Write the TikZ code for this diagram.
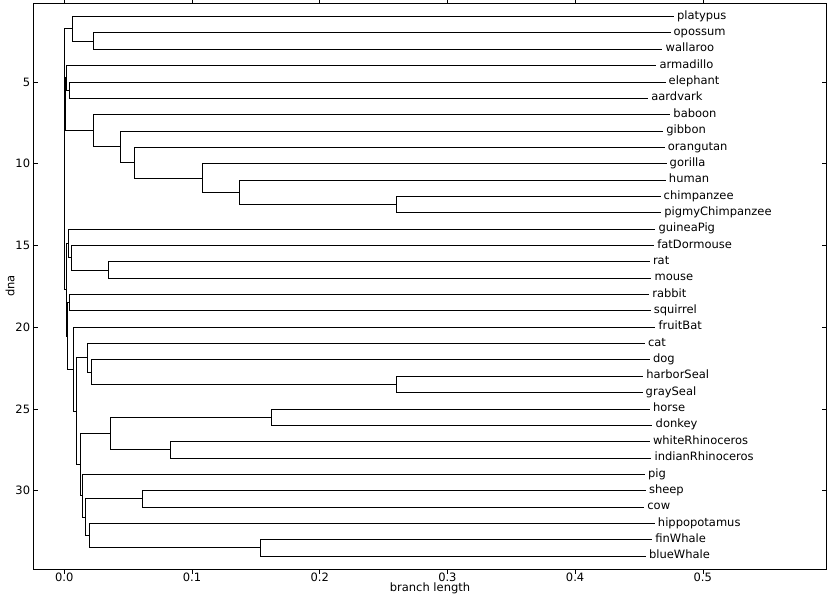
\documentclass[tikz,border=0pt]{standalone}
\usepackage{fontspec}
\setmainfont{DejaVu Sans}
\begin{document}
\begin{tikzpicture}[x=1277pt, y=-16.35pt, line width=1pt,
        every node/.style = {font=\fontsize{11.5}{13.8}\selectfont},
        leaf/.style = {anchor=west, inner xsep=2.7pt, inner ysep=0pt,
                        text height=0.76em, text depth=0.24em},
        ticklabel/.style = {inner sep=0pt},
        tickmark/.style = {line width=0.55pt}]
    \useasboundingbox (-0.05035,-0.0153) rectangle (0.59961,36.62);
    % axes frame
    \draw (-0.02387,0.2) rectangle (0.59663,34.8);
    \foreach \v [count=\i] in {0.0,0.1,0.2,0.3,0.4,0.5} {
        \draw[tickmark] (\v,34.8) -- ++(0,-4.4pt);
        \draw[tickmark] (\v,0.2) -- ++(0,4.4pt);
        \node[ticklabel, anchor=north] (xt\i) at ([yshift=-3.6pt]\v,34.8) {\v};
    }
    \foreach \r in {5,10,...,30} {
        \draw[tickmark] (-0.02387,\r) -- ++(4.4pt,0);
        \draw[tickmark] (0.59663,\r) -- ++(-4.4pt,0);
        \node[ticklabel, anchor=east] (yt\r) at ([xshift=-3.2pt]-0.02387,\r) {\r};
    }
    \node (xlab) at (0.28638,35.99) {branch length};
    \node[rotate=90] (ylab) at (-0.04252,17.477) {dna};
    % tips
    \foreach \name/\len [count=\row] in {platypus/0.4773, opossum/0.4747,
        wallaroo/0.4684, armadillo/0.4637, elephant/0.4708, aardvark/0.4572,
        baboon/0.4745, gibbon/0.4690, orangutan/0.4702, gorilla/0.4716,
        human/0.4710, chimpanzee/0.4669, pigmyChimpanzee/0.4673,
        guineaPig/0.4629, fatDormouse/0.4619, rat/0.4585, mouse/0.4598,
        rabbit/0.4580, squirrel/0.4591, fruitBat/0.4629, cat/0.4546,
        dog/0.4585, harborSeal/0.4533, graySeal/0.4528, horse/0.4585,
        donkey/0.4606, whiteRhinoceros/0.4585, indianRhinoceros/0.4598,
        pig/0.4546, sheep/0.4554, cow/0.4541, hippopotamus/0.4624,
        finWhale/0.4604, blueWhale/0.4554}
        \node[leaf] (\name) at (\len,\row) {\name};
    % inner clades
    \coordinate (root) at (0,9.7275);
    \coordinate (pm) at (0.0063,1.75);
    \coordinate (mar) at (0.0227,2.5);
    \coordinate (ep) at (0.0006,6.3672);
    \coordinate (af) at (0.0019,4.75);
    \coordinate (ea) at (0.0042,5.5);
    \coordinate (pri) at (0.0225,7.9844);
    \coordinate (gib) at (0.0439,8.9688);
    \coordinate (ora) at (0.0548,9.9375);
    \coordinate (gor) at (0.1086,10.875);
    \coordinate (hum) at (0.1370,11.75);
    \coordinate (chi) at (0.2598,12.5);
    \coordinate (ro) at (0.0016,17.7051);
    \coordinate (gp) at (0.0031,14.875);
    \coordinate (fd) at (0.0058,15.75);
    \coordinate (rm) at (0.0345,16.5);
    \coordinate (gl) at (0.0028,20.5352);
    \coordinate (lag) at (0.0039,18.5);
    \coordinate (bat) at (0.0071,22.5703);
    \coordinate (lau) at (0.0097,25.1406);
    \coordinate (car) at (0.0182,21.875);
    \coordinate (dsl) at (0.0215,22.75);
    \coordinate (seal) at (0.2603,23.5);
    \coordinate (ung) at (0.0125,28.4063);
    \coordinate (per) at (0.0358,26.5);
    \coordinate (eq) at (0.1624,25.5);
    \coordinate (rhi) at (0.0830,27.5);
    \coordinate (art) at (0.0141,30.3125);
    \coordinate (rum) at (0.0164,31.625);
    \coordinate (bov) at (0.0611,30.5);
    \coordinate (hip) at (0.0196,32.75);
    \coordinate (wha) at (0.1540,33.5);
    % branches
    \foreach \p/\c in {root/pm, root/ep, root/ro,
        pm/platypus, pm/mar, mar/opossum, mar/wallaroo,
        ep/af, ep/pri, af/armadillo, af/ea, ea/elephant, ea/aardvark,
        pri/baboon, pri/gib, gib/gibbon, gib/ora, ora/orangutan, ora/gor,
        gor/gorilla, gor/hum, hum/human, hum/chi, chi/chimpanzee, chi/pigmyChimpanzee,
        ro/gp, ro/gl, gp/guineaPig, gp/fd, fd/fatDormouse, fd/rm, rm/rat, rm/mouse,
        gl/lag, gl/bat, lag/rabbit, lag/squirrel, bat/fruitBat, bat/lau,
        lau/car, lau/ung, car/cat, car/dsl, dsl/dog, dsl/seal,
        seal/harborSeal, seal/graySeal,
        ung/per, ung/art, per/eq, per/rhi, eq/horse, eq/donkey,
        rhi/whiteRhinoceros, rhi/indianRhinoceros,
        art/pig, art/rum, rum/bov, rum/hip, bov/sheep, bov/cow,
        hip/hippopotamus, hip/wha, wha/finWhale, wha/blueWhale}
        \draw (\p) |- (\c);
\end{tikzpicture}
\end{document}
